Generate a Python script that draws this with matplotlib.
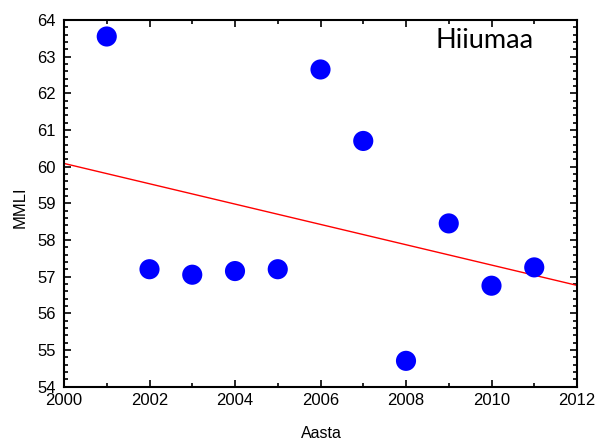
import numpy as np
import matplotlib
matplotlib.use("Agg")
import matplotlib.pyplot as plt
from matplotlib.ticker import MultipleLocator

years = [2001, 2002, 2003, 2004, 2005, 2006, 2007, 2008, 2009, 2010, 2011]
mmli = [63.55, 57.2, 57.05, 57.15, 57.2, 62.65, 60.7, 54.7, 58.45, 56.75, 57.25]
x_ticks = [2000, 2002, 2004, 2006, 2008, 2010, 2012]
y_ticks = [54, 55, 56, 57, 58, 59, 60, 61, 62, 63, 64]

plt.rcParams['font.family'] = ['Liberation Sans', 'DejaVu Sans']

fig = plt.figure(figsize=(5.98, 4.41), dpi=100)
ax = fig.add_axes([64/598, 1-386.5/441, (577-64)/598, (386.5-20)/441])

# regression line
coef = np.polyfit(years, mmli, 1)
xl = np.array([2000, 2012])
ax.plot(xl, np.polyval(coef, xl), color='#ff0000', lw=1.0, zorder=2)

ax.scatter(years, mmli, s=210, color='#0000ff', edgecolors='none', zorder=3)

ax.set_xlim(2000, 2012)
ax.set_ylim(54, 64)
ax.set_xticks(x_ticks)
ax.set_yticks(y_ticks)
ax.xaxis.set_minor_locator(MultipleLocator(1))
ax.yaxis.set_minor_locator(MultipleLocator(0.2))
ax.tick_params(which='both', direction='in', top=True, right=True, width=1.2, labelsize=12, colors='black')
ax.tick_params(which='major', length=5)
ax.tick_params(which='minor', length=3)
ax.tick_params(axis='x', pad=5)
ax.tick_params(axis='y', pad=6)
for s in ax.spines.values():
    s.set_linewidth(1.5)

ax.set_xlabel('Aasta', fontsize=11.5)
ax.set_ylabel('MMLI', fontsize=12)
ax.xaxis.set_label_coords(0.501, -0.107)
ax.yaxis.set_label_coords(-0.070, 0.49)

ax.text(0.82, 0.924, 'Hiiumaa', transform=ax.transAxes, ha='center', va='baseline',
        fontsize=19.5, family=['Lato', 'DejaVu Sans'])

fig.savefig('out.png', dpi=100)
